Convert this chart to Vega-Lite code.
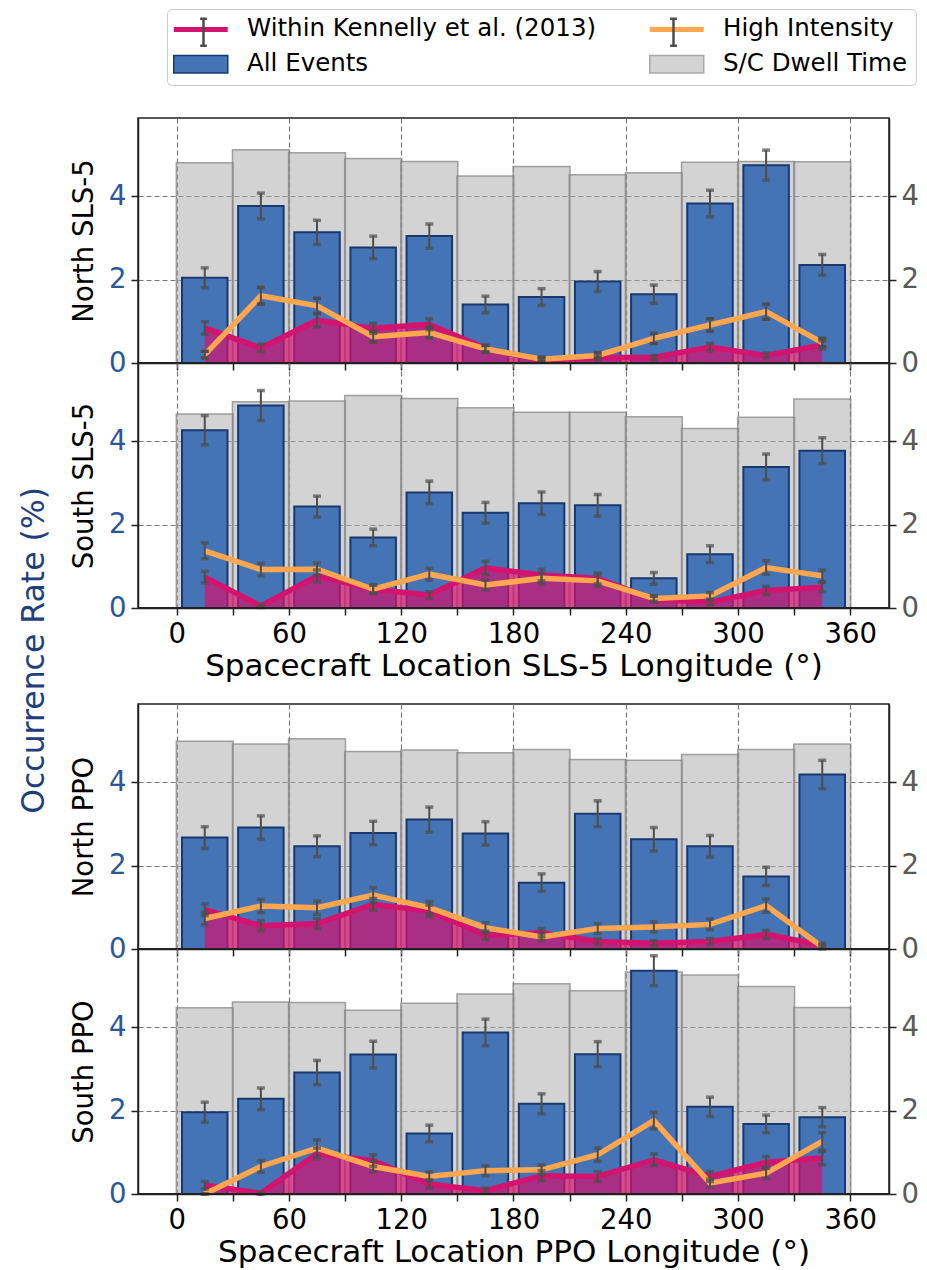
{
"$schema": "https://vega.github.io/schema/vega-lite/v6.json",
"padding": {"left": 19, "top": 8, "right": 0, "bottom": 0},
"datasets": {"d": [
{"panel":"NS","lon":15,"dwell":4.80,"all":2.04,"allE":0.24,"ken":0.84,"kenE":0.15,"hi":0.20,"hiE":0.08},
{"panel":"NS","lon":45,"dwell":5.11,"all":3.76,"allE":0.31,"ken":0.36,"kenE":0.09,"hi":1.61,"hiE":0.20},
{"panel":"NS","lon":75,"dwell":5.04,"all":3.13,"allE":0.29,"ken":1.03,"kenE":0.16,"hi":1.37,"hiE":0.18},
{"panel":"NS","lon":105,"dwell":4.90,"all":2.77,"allE":0.27,"ken":0.83,"kenE":0.12,"hi":0.63,"hiE":0.13},
{"panel":"NS","lon":135,"dwell":4.83,"all":3.04,"allE":0.29,"ken":0.93,"kenE":0.13,"hi":0.73,"hiE":0.13},
{"panel":"NS","lon":165,"dwell":4.48,"all":1.40,"allE":0.20,"ken":0.35,"kenE":0.08,"hi":0.34,"hiE":0.08},
{"panel":"NS","lon":195,"dwell":4.71,"all":1.58,"allE":0.20,"ken":0.07,"kenE":0.04,"hi":0.09,"hiE":0.05},
{"panel":"NS","lon":225,"dwell":4.51,"all":1.95,"allE":0.24,"ken":0.13,"kenE":0.05,"hi":0.18,"hiE":0.07},
{"panel":"NS","lon":255,"dwell":4.56,"all":1.65,"allE":0.22,"ken":0.13,"kenE":0.05,"hi":0.59,"hiE":0.12},
{"panel":"NS","lon":285,"dwell":4.81,"all":3.82,"allE":0.32,"ken":0.38,"kenE":0.09,"hi":0.91,"hiE":0.15},
{"panel":"NS","lon":315,"dwell":4.83,"all":4.74,"allE":0.36,"ken":0.18,"kenE":0.06,"hi":1.23,"hiE":0.18},
{"panel":"NS","lon":345,"dwell":4.82,"all":2.35,"allE":0.25,"ken":0.43,"kenE":0.10,"hi":0.49,"hiE":0.10},
{"panel":"SS","lon":15,"dwell":4.65,"all":4.26,"allE":0.35,"ken":0.74,"kenE":0.14,"hi":1.37,"hiE":0.19},
{"panel":"SS","lon":45,"dwell":4.94,"all":4.85,"allE":0.36,"ken":0.05,"kenE":0.04,"hi":0.92,"hiE":0.15},
{"panel":"SS","lon":75,"dwell":4.96,"all":2.43,"allE":0.25,"ken":0.77,"kenE":0.14,"hi":0.93,"hiE":0.15},
{"panel":"SS","lon":105,"dwell":5.09,"all":1.69,"allE":0.20,"ken":0.45,"kenE":0.10,"hi":0.45,"hiE":0.10},
{"panel":"SS","lon":135,"dwell":5.02,"all":2.77,"allE":0.27,"ken":0.31,"kenE":0.08,"hi":0.81,"hiE":0.14},
{"panel":"SS","lon":165,"dwell":4.80,"all":2.28,"allE":0.25,"ken":0.96,"kenE":0.16,"hi":0.55,"hiE":0.12},
{"panel":"SS","lon":195,"dwell":4.69,"all":2.51,"allE":0.27,"ken":0.79,"kenE":0.14,"hi":0.71,"hiE":0.13},
{"panel":"SS","lon":225,"dwell":4.69,"all":2.46,"allE":0.26,"ken":0.71,"kenE":0.13,"hi":0.65,"hiE":0.13},
{"panel":"SS","lon":255,"dwell":4.58,"all":0.71,"allE":0.14,"ken":0.21,"kenE":0.07,"hi":0.23,"hiE":0.07},
{"panel":"SS","lon":285,"dwell":4.30,"all":1.29,"allE":0.20,"ken":0.14,"kenE":0.06,"hi":0.29,"hiE":0.08},
{"panel":"SS","lon":315,"dwell":4.57,"all":3.38,"allE":0.31,"ken":0.42,"kenE":0.10,"hi":0.97,"hiE":0.16},
{"panel":"SS","lon":345,"dwell":5.01,"all":3.77,"allE":0.31,"ken":0.50,"kenE":0.11,"hi":0.77,"hiE":0.14},
{"panel":"NP","lon":15,"dwell":4.98,"all":2.67,"allE":0.26,"ken":0.94,"kenE":0.14,"hi":0.73,"hiE":0.15},
{"panel":"NP","lon":45,"dwell":4.91,"all":2.91,"allE":0.28,"ken":0.56,"kenE":0.12,"hi":1.03,"hiE":0.16},
{"panel":"NP","lon":75,"dwell":5.04,"all":2.46,"allE":0.25,"ken":0.61,"kenE":0.12,"hi":0.99,"hiE":0.16},
{"panel":"NP","lon":105,"dwell":4.73,"all":2.78,"allE":0.28,"ken":1.07,"kenE":0.14,"hi":1.29,"hiE":0.18},
{"panel":"NP","lon":135,"dwell":4.77,"all":3.10,"allE":0.30,"ken":0.91,"kenE":0.14,"hi":0.99,"hiE":0.15},
{"panel":"NP","lon":165,"dwell":4.70,"all":2.77,"allE":0.28,"ken":0.33,"kenE":0.10,"hi":0.51,"hiE":0.12},
{"panel":"NP","lon":195,"dwell":4.78,"all":1.59,"allE":0.21,"ken":0.39,"kenE":0.10,"hi":0.29,"hiE":0.09},
{"panel":"NP","lon":225,"dwell":4.54,"all":3.24,"allE":0.31,"ken":0.18,"kenE":0.07,"hi":0.49,"hiE":0.12},
{"panel":"NP","lon":255,"dwell":4.52,"all":2.63,"allE":0.28,"ken":0.14,"kenE":0.06,"hi":0.53,"hiE":0.12},
{"panel":"NP","lon":285,"dwell":4.66,"all":2.46,"allE":0.26,"ken":0.18,"kenE":0.07,"hi":0.59,"hiE":0.13},
{"panel":"NP","lon":315,"dwell":4.78,"all":1.74,"allE":0.22,"ken":0.35,"kenE":0.10,"hi":1.04,"hiE":0.16},
{"panel":"NP","lon":345,"dwell":4.91,"all":4.18,"allE":0.34,"ken":0.09,"kenE":0.05,"hi":0.05,"hiE":0.05},
{"panel":"SP","lon":15,"dwell":4.46,"all":1.96,"allE":0.24,"ken":0.21,"kenE":0.09,"hi":0.00,"hiE":0.00},
{"panel":"SP","lon":45,"dwell":4.60,"all":2.28,"allE":0.26,"ken":0.02,"kenE":0.02,"hi":0.66,"hiE":0.14},
{"panel":"SP","lon":75,"dwell":4.59,"all":2.91,"allE":0.29,"ken":0.97,"kenE":0.13,"hi":1.10,"hiE":0.20},
{"panel":"SP","lon":105,"dwell":4.40,"all":3.34,"allE":0.32,"ken":0.80,"kenE":0.14,"hi":0.66,"hiE":0.13},
{"panel":"SP","lon":135,"dwell":4.57,"all":1.45,"allE":0.20,"ken":0.24,"kenE":0.10,"hi":0.42,"hiE":0.11},
{"panel":"SP","lon":165,"dwell":4.79,"all":3.87,"allE":0.32,"ken":0.08,"kenE":0.06,"hi":0.56,"hiE":0.12},
{"panel":"SP","lon":195,"dwell":5.04,"all":2.16,"allE":0.24,"ken":0.44,"kenE":0.12,"hi":0.58,"hiE":0.12},
{"panel":"SP","lon":225,"dwell":4.87,"all":3.35,"allE":0.30,"ken":0.42,"kenE":0.12,"hi":0.94,"hiE":0.16},
{"panel":"SP","lon":255,"dwell":5.32,"all":5.35,"allE":0.36,"ken":0.82,"kenE":0.14,"hi":1.76,"hiE":0.20},
{"panel":"SP","lon":285,"dwell":5.25,"all":2.09,"allE":0.23,"ken":0.42,"kenE":0.12,"hi":0.26,"hiE":0.10},
{"panel":"SP","lon":315,"dwell":4.97,"all":1.68,"allE":0.21,"ken":0.76,"kenE":0.14,"hi":0.50,"hiE":0.13},
{"panel":"SP","lon":345,"dwell":4.47,"all":1.84,"allE":0.23,"ken":0.86,"kenE":0.16,"hi":1.26,"hiE":0.21}
]},
"data": {"name": "d"},
"title": {"text": "Occurrence Rate (%)", "orient": "left", "anchor": "middle", "fontSize": 31.5, "font": "DejaVu Sans", "fontWeight": "normal", "color": "#1f3f7a", "offset": 19, "dx": -12},
"spacing": 20,
"vconcat": [
{"spacing": 0, "bounds": "flush", "vconcat": [
{"width": 751, "height": 245,
 "transform": [{"filter": "datum.panel === 'NS'"}],
 "resolve": {"scale": {"y": "shared"}, "axis": {"y": "independent"}},
 "layer": [
  {"mark": {"type": "bar", "orient": "vertical", "width": 56.9, "fill": "#a8a8a8", "fillOpacity": 0.5, "stroke": "#808080", "strokeOpacity": 0.7, "strokeWidth": 1.5},
   "encoding": {
    "x": {"field": "lon", "type": "quantitative", "scale": {"domain": [-18, 378], "nice": false, "zero": false},
      "axis": {"values": [0,30,60,90,120,150,180,210,240,270,300,330,360], "labels": false, "title": null, "grid": true, "gridOpacity": {"condition": {"test": "datum.value % 60 === 0", "value": 1}, "value": 0}}},
    "y": {"field": "dwell", "type": "quantitative", "scale": {"domain": [0, 5.87], "nice": false},
      "axis": {"values": [0,2,4], "title": "North SLS-5", "grid": true, "labelColor": "#2b5797", "orient": "left"}}
   }},
  {"mark": {"type": "bar", "orient": "vertical", "width": 45.5, "fill": "#4574b6", "stroke": "#18386f", "strokeWidth": 2},
   "encoding": {"x": {"field": "lon", "type": "quantitative"},
    "y": {"field": "all", "type": "quantitative", "scale": {"domain": [0, 5.87], "nice": false}, "axis": {"values": [0,2,4], "title": null, "grid": false, "labelColor": "#595959", "orient": "right"}}}},
  {"mark": {"type": "errorbar", "color": "#4d4d4d", "rule": {"strokeWidth": 2}, "ticks": {"size": 8, "thickness": 3.5}},
   "encoding": {"x": {"field": "lon", "type": "quantitative"}, "y": {"field": "all", "type": "quantitative", "axis": null}, "yError": {"field": "allE"}}},
  {"mark": {"type": "area", "color": "#d4136f", "opacity": 0.7},
   "encoding": {"x": {"field": "lon", "type": "quantitative"}, "y": {"field": "ken", "type": "quantitative", "axis": null}}},
  {"mark": {"type": "line", "strokeWidth": 5.5},
   "encoding": {"x": {"field": "lon", "type": "quantitative"}, "y": {"field": "ken", "type": "quantitative", "axis": null},
    "color": {"datum": "Within Kennelly et al. (2013)", "type": "nominal",
      "scale": {"domain": ["Within Kennelly et al. (2013)", "High Intensity", "All Events", "S/C Dwell Time"], "range": ["#d4136f", "#ffa64f", "#18386f", "#a9a9a9"]},
      "legend": {"title": null, "orient": "none", "legendX": 29, "legendY": -109, "columns": 2, "direction": "horizontal", "symbolSize": 729, "symbolOffset": 13.5, "labelOffset": 34, "labelLimit": 0, "labelFontSize": 24.5, "labelFont": "DejaVu Sans", "labelColor": "#000000", "padding": 8, "rowPadding": 10, "columnPadding": 42, "strokeColor": "#cccccc", "fillColor": "#ffffff", "cornerRadius": 5,
        "encoding": {"symbols": {
          "shape": {"value": {"expr": "datum.value === 'All Events' || datum.value === 'S/C Dwell Time' ? 'M-2,-0.65H2V0.65H-2Z' : 'M-2,0H2'"}},
          "fill": {"value": {"expr": "datum.value === 'All Events' ? '#4574b6' : datum.value === 'S/C Dwell Time' ? '#d3d3d3' : 'transparent'"}},
          "strokeWidth": {"value": {"expr": "datum.value === 'All Events' || datum.value === 'S/C Dwell Time' ? 1.5 : 5"}},
          "opacity": {"value": 1}}}}}}},
  {"mark": {"type": "line", "color": "#ffa64f", "strokeWidth": 5.5},
   "encoding": {"x": {"field": "lon", "type": "quantitative"}, "y": {"field": "hi", "type": "quantitative", "axis": null}}},
  {"mark": {"type": "errorbar", "color": "#4d4d4d", "rule": {"strokeWidth": 2}, "ticks": {"size": 8, "thickness": 3.5}},
   "encoding": {"x": {"field": "lon", "type": "quantitative"}, "y": {"field": "ken", "type": "quantitative", "axis": null}, "yError": {"field": "kenE"}}},
  {"mark": {"type": "errorbar", "color": "#4d4d4d", "rule": {"strokeWidth": 2}, "ticks": {"size": 8, "thickness": 3.5}},
   "encoding": {"x": {"field": "lon", "type": "quantitative"}, "y": {"field": "hi", "type": "quantitative", "axis": null}, "yError": {"field": "hiE"},
    "opacity": {"datum": "High Intensity", "type": "nominal",
      "scale": {"domain": ["Within Kennelly et al. (2013)", "High Intensity"], "range": [1, 1]},
      "legend": {"title": null, "orient": "none", "legendX": 29, "legendY": -109, "columns": 2, "direction": "horizontal", "symbolSize": 729, "symbolOffset": 13.5, "labelOffset": 34, "labelExpr": "''", "labelFontSize": 24.5, "labelFont": "DejaVu Sans", "padding": 8, "rowPadding": 10, "columnPadding": 392, "strokeColor": "transparent", "fillColor": "transparent",
        "encoding": {"symbols": {
          "shape": {"value": "M0,-1V1M-0.25,-1H0.25M-0.25,1H0.25"},
          "fill": {"value": "transparent"},
          "stroke": {"value": "#4d4d4d"},
          "strokeWidth": {"value": 2.5}}}}}}},
  {"mark": {"type": "rule", "color": "#222222", "strokeWidth": 1.5},
   "encoding": {"y": {"datum": 0, "type": "quantitative", "axis": null}}}
 ]},
{"width": 751, "height": 245,
 "transform": [{"filter": "datum.panel === 'SS'"}],
 "resolve": {"scale": {"y": "shared"}, "axis": {"y": "independent"}},
 "layer": [
  {"mark": {"type": "bar", "orient": "vertical", "width": 56.9, "fill": "#a8a8a8", "fillOpacity": 0.5, "stroke": "#808080", "strokeOpacity": 0.7, "strokeWidth": 1.5},
   "encoding": {
    "x": {"field": "lon", "type": "quantitative", "scale": {"domain": [-18, 378], "nice": false, "zero": false},
      "axis": {"values": [0,30,60,90,120,150,180,210,240,270,300,330,360], "labelExpr": "datum.value % 60 === 0 ? datum.label : ''", "labelOverlap": false, "labelFlush": false, "title": "Spacecraft Location SLS-5 Longitude (°)", "titleFontSize": 31, "titlePadding": 4, "grid": true, "gridOpacity": {"condition": {"test": "datum.value % 60 === 0", "value": 1}, "value": 0}}},
    "y": {"field": "dwell", "type": "quantitative", "scale": {"domain": [0, 5.87], "nice": false},
      "axis": {"values": [0,2,4], "title": "South SLS-5", "grid": true, "labelColor": "#2b5797", "orient": "left"}}
   }},
  {"mark": {"type": "bar", "orient": "vertical", "width": 45.5, "fill": "#4574b6", "stroke": "#18386f", "strokeWidth": 2},
   "encoding": {"x": {"field": "lon", "type": "quantitative"},
    "y": {"field": "all", "type": "quantitative", "scale": {"domain": [0, 5.87], "nice": false}, "axis": {"values": [0,2,4], "title": null, "grid": false, "labelColor": "#595959", "orient": "right"}}}},
  {"mark": {"type": "errorbar", "color": "#4d4d4d", "rule": {"strokeWidth": 2}, "ticks": {"size": 8, "thickness": 3.5}},
   "encoding": {"x": {"field": "lon", "type": "quantitative"}, "y": {"field": "all", "type": "quantitative", "axis": null}, "yError": {"field": "allE"}}},
  {"mark": {"type": "area", "color": "#d4136f", "opacity": 0.7},
   "encoding": {"x": {"field": "lon", "type": "quantitative"}, "y": {"field": "ken", "type": "quantitative", "axis": null}}},
  {"mark": {"type": "line", "color": "#d4136f", "strokeWidth": 5.5},
   "encoding": {"x": {"field": "lon", "type": "quantitative"}, "y": {"field": "ken", "type": "quantitative", "axis": null}}},
  {"mark": {"type": "line", "color": "#ffa64f", "strokeWidth": 5.5},
   "encoding": {"x": {"field": "lon", "type": "quantitative"}, "y": {"field": "hi", "type": "quantitative", "axis": null}}},
  {"mark": {"type": "errorbar", "color": "#4d4d4d", "rule": {"strokeWidth": 2}, "ticks": {"size": 8, "thickness": 3.5}},
   "encoding": {"x": {"field": "lon", "type": "quantitative"}, "y": {"field": "ken", "type": "quantitative", "axis": null}, "yError": {"field": "kenE"}}},
  {"mark": {"type": "errorbar", "color": "#4d4d4d", "rule": {"strokeWidth": 2}, "ticks": {"size": 8, "thickness": 3.5}},
   "encoding": {"x": {"field": "lon", "type": "quantitative"}, "y": {"field": "hi", "type": "quantitative", "axis": null}, "yError": {"field": "hiE"}}},
  {"mark": {"type": "rule", "color": "#222222", "strokeWidth": 1.5},
   "encoding": {"y": {"datum": 0, "type": "quantitative", "axis": null}}}
 ]}
]},
{"spacing": 0, "bounds": "flush", "vconcat": [
{"width": 751, "height": 245,
 "transform": [{"filter": "datum.panel === 'NP'"}],
 "resolve": {"scale": {"y": "shared"}, "axis": {"y": "independent"}},
 "layer": [
  {"mark": {"type": "bar", "orient": "vertical", "width": 56.9, "fill": "#a8a8a8", "fillOpacity": 0.5, "stroke": "#808080", "strokeOpacity": 0.7, "strokeWidth": 1.5},
   "encoding": {
    "x": {"field": "lon", "type": "quantitative", "scale": {"domain": [-18, 378], "nice": false, "zero": false},
      "axis": {"values": [0,30,60,90,120,150,180,210,240,270,300,330,360], "labels": false, "title": null, "grid": true, "gridOpacity": {"condition": {"test": "datum.value % 60 === 0", "value": 1}, "value": 0}}},
    "y": {"field": "dwell", "type": "quantitative", "scale": {"domain": [0, 5.87], "nice": false},
      "axis": {"values": [0,2,4], "title": "North PPO", "grid": true, "labelColor": "#2b5797", "orient": "left"}}
   }},
  {"mark": {"type": "bar", "orient": "vertical", "width": 45.5, "fill": "#4574b6", "stroke": "#18386f", "strokeWidth": 2},
   "encoding": {"x": {"field": "lon", "type": "quantitative"},
    "y": {"field": "all", "type": "quantitative", "scale": {"domain": [0, 5.87], "nice": false}, "axis": {"values": [0,2,4], "title": null, "grid": false, "labelColor": "#595959", "orient": "right"}}}},
  {"mark": {"type": "errorbar", "color": "#4d4d4d", "rule": {"strokeWidth": 2}, "ticks": {"size": 8, "thickness": 3.5}},
   "encoding": {"x": {"field": "lon", "type": "quantitative"}, "y": {"field": "all", "type": "quantitative", "axis": null}, "yError": {"field": "allE"}}},
  {"mark": {"type": "area", "color": "#d4136f", "opacity": 0.7},
   "encoding": {"x": {"field": "lon", "type": "quantitative"}, "y": {"field": "ken", "type": "quantitative", "axis": null}}},
  {"mark": {"type": "line", "color": "#d4136f", "strokeWidth": 5.5},
   "encoding": {"x": {"field": "lon", "type": "quantitative"}, "y": {"field": "ken", "type": "quantitative", "axis": null}}},
  {"mark": {"type": "line", "color": "#ffa64f", "strokeWidth": 5.5},
   "encoding": {"x": {"field": "lon", "type": "quantitative"}, "y": {"field": "hi", "type": "quantitative", "axis": null}}},
  {"mark": {"type": "errorbar", "color": "#4d4d4d", "rule": {"strokeWidth": 2}, "ticks": {"size": 8, "thickness": 3.5}},
   "encoding": {"x": {"field": "lon", "type": "quantitative"}, "y": {"field": "ken", "type": "quantitative", "axis": null}, "yError": {"field": "kenE"}}},
  {"mark": {"type": "errorbar", "color": "#4d4d4d", "rule": {"strokeWidth": 2}, "ticks": {"size": 8, "thickness": 3.5}},
   "encoding": {"x": {"field": "lon", "type": "quantitative"}, "y": {"field": "hi", "type": "quantitative", "axis": null}, "yError": {"field": "hiE"}}},
  {"mark": {"type": "rule", "color": "#222222", "strokeWidth": 1.5},
   "encoding": {"y": {"datum": 0, "type": "quantitative", "axis": null}}}
 ]},
{"width": 751, "height": 245,
 "transform": [{"filter": "datum.panel === 'SP'"}],
 "resolve": {"scale": {"y": "shared"}, "axis": {"y": "independent"}},
 "layer": [
  {"mark": {"type": "bar", "orient": "vertical", "width": 56.9, "fill": "#a8a8a8", "fillOpacity": 0.5, "stroke": "#808080", "strokeOpacity": 0.7, "strokeWidth": 1.5},
   "encoding": {
    "x": {"field": "lon", "type": "quantitative", "scale": {"domain": [-18, 378], "nice": false, "zero": false},
      "axis": {"values": [0,30,60,90,120,150,180,210,240,270,300,330,360], "labelExpr": "datum.value % 60 === 0 ? datum.label : ''", "labelOverlap": false, "labelFlush": false, "title": "Spacecraft Location PPO Longitude (°)", "titleFontSize": 31, "titlePadding": 4, "grid": true, "gridOpacity": {"condition": {"test": "datum.value % 60 === 0", "value": 1}, "value": 0}}},
    "y": {"field": "dwell", "type": "quantitative", "scale": {"domain": [0, 5.87], "nice": false},
      "axis": {"values": [0,2,4], "title": "South PPO", "grid": true, "labelColor": "#2b5797", "orient": "left"}}
   }},
  {"mark": {"type": "bar", "orient": "vertical", "width": 45.5, "fill": "#4574b6", "stroke": "#18386f", "strokeWidth": 2},
   "encoding": {"x": {"field": "lon", "type": "quantitative"},
    "y": {"field": "all", "type": "quantitative", "scale": {"domain": [0, 5.87], "nice": false}, "axis": {"values": [0,2,4], "title": null, "grid": false, "labelColor": "#595959", "orient": "right"}}}},
  {"mark": {"type": "errorbar", "color": "#4d4d4d", "rule": {"strokeWidth": 2}, "ticks": {"size": 8, "thickness": 3.5}},
   "encoding": {"x": {"field": "lon", "type": "quantitative"}, "y": {"field": "all", "type": "quantitative", "axis": null}, "yError": {"field": "allE"}}},
  {"mark": {"type": "area", "color": "#d4136f", "opacity": 0.7},
   "encoding": {"x": {"field": "lon", "type": "quantitative"}, "y": {"field": "ken", "type": "quantitative", "axis": null}}},
  {"mark": {"type": "line", "color": "#d4136f", "strokeWidth": 5.5},
   "encoding": {"x": {"field": "lon", "type": "quantitative"}, "y": {"field": "ken", "type": "quantitative", "axis": null}}},
  {"mark": {"type": "line", "color": "#ffa64f", "strokeWidth": 5.5},
   "encoding": {"x": {"field": "lon", "type": "quantitative"}, "y": {"field": "hi", "type": "quantitative", "axis": null}}},
  {"mark": {"type": "errorbar", "color": "#4d4d4d", "rule": {"strokeWidth": 2}, "ticks": {"size": 8, "thickness": 3.5}},
   "encoding": {"x": {"field": "lon", "type": "quantitative"}, "y": {"field": "ken", "type": "quantitative", "axis": null}, "yError": {"field": "kenE"}}},
  {"mark": {"type": "errorbar", "color": "#4d4d4d", "rule": {"strokeWidth": 2}, "ticks": {"size": 8, "thickness": 3.5}},
   "encoding": {"x": {"field": "lon", "type": "quantitative"}, "y": {"field": "hi", "type": "quantitative", "axis": null}, "yError": {"field": "hiE"}}},
  {"mark": {"type": "rule", "color": "#222222", "strokeWidth": 1.5},
   "encoding": {"y": {"datum": 0, "type": "quantitative", "axis": null}}}
 ]}
]}
],
"config": {
 "font": "DejaVu Sans",
 "view": {"stroke": "#222222", "strokeWidth": 1.5},
 "axis": {"labelFont": "DejaVu Sans", "titleFont": "DejaVu Sans", "labelFontSize": 27.5, "titleFontSize": 27.5, "titleFontWeight": "normal", "titleColor": "#000000", "labelColor": "#000000", "domainColor": "#222222", "domainWidth": 1.5, "tickColor": "#222222", "tickWidth": 1.5, "tickSize": 7, "labelPadding": 5, "titlePadding": 10, "gridColor": "#7a7a7a", "gridDash": [5, 3], "gridWidth": 1.2}
}
}
